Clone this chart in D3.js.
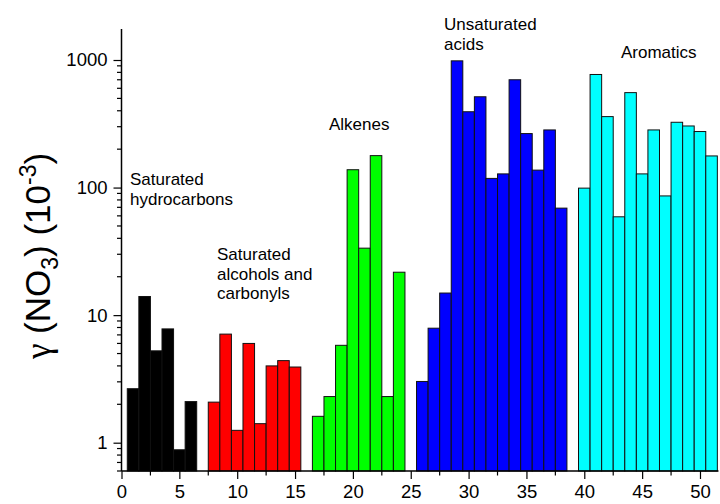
<!DOCTYPE html>
<html><head><meta charset="utf-8">
<script src="https://cdn.jsdelivr.net/npm/d3@7"></script>
<style>
html,body{margin:0;padding:0;background:#fff;}
svg{display:block;font-family:Arial,"Liberation Sans",sans-serif;}
</style></head>
<body><svg id="chart" width="720" height="504"></svg>
<script>
// ---- data ----
const categories = ["Saturated hydrocarbons", "Saturated alcohols and carbonyls", "Alkenes", "Unsaturated acids", "Aromatics"];
const categoryColors = ["#000000", "#ff0000", "#00ff00", "#0000ff", "#00ffff"];
const satHydroX = [1, 2, 3, 4, 5, 6];
const satHydroY = [2.65, 14.0, 5.25, 7.8, 0.88, 2.1];
const satAlcX = [8, 9, 10, 11, 12, 13, 14, 15];
const satAlcY = [2.08, 7.1, 1.25, 6.0, 1.41, 4.0, 4.4, 3.92];
const alkenesX = [17, 18, 19, 20, 21, 22, 23, 24];
const alkenesY = [1.61, 2.3, 5.8, 138, 33.5, 178, 2.3, 21.7];
const unsatAcidsX = [26, 27, 28, 29, 30, 31, 32, 33, 34, 35, 36, 37, 38];
const unsatAcidsY = [3.02, 7.9, 14.9, 985, 393, 515, 118, 128, 700, 265, 137, 283, 69];
const aromaticsX = [40, 41, 42, 43, 44, 45, 46, 47, 48, 49, 50, 51];
const aromaticsY = [99, 770, 360, 59, 555, 128, 283, 86, 325, 304, 275, 177];
const xTickLabels = [0, 5, 10, 15, 20, 25, 30, 35, 40, 45, 50];
const yTickLabels = [1, 10, 100, 1000];
const labelLines = [["Saturated", "hydrocarbons"], ["Saturated", "alcohols and", "carbonyls"], ["Alkenes"], ["Unsaturated", "acids"], ["Aromatics"]];

const groups = [
  {x: satHydroX, y: satHydroY},
  {x: satAlcX, y: satAlcY},
  {x: alkenesX, y: alkenesY},
  {x: unsatAcidsX, y: unsatAcidsY},
  {x: aromaticsX, y: aromaticsY}
];

// ---- layout ----
const svg = d3.select("#chart");
const x = d3.scaleLinear().domain([0, 51.6]).range([121.5, 718.5]);
const y = d3.scaleLog().domain([0.6, 1750]).range([471, 29]);
const bw = x(1) - x(0);

// bars
groups.forEach((g, gi) => {
  svg.append("g").selectAll("rect").data(g.x.map((xv, i) => ({xv, yv: g.y[i]})))
    .join("rect")
    .attr("x", d => x(d.xv - 0.5))
    .attr("width", bw)
    .attr("y", d => y(d.yv))
    .attr("height", d => y(0.6) - y(d.yv))
    .attr("fill", categoryColors[gi])
    .attr("stroke", "#111")
    .attr("stroke-width", 1);
});

// x axis
const xMinor = d3.range(0, 51.6, 2.5).filter(v => v % 5 !== 0);
const xAxis = svg.append("g").attr("transform", `translate(0,${y(0.6)})`);
xAxis.call(d3.axisBottom(x).tickValues(xTickLabels).tickSize(8).tickPadding(6).tickFormat(d3.format("d")));
xAxis.selectAll(".tick line").attr("stroke", "#000").attr("stroke-width", 1.2);
xAxis.select(".domain").attr("stroke", "#000").attr("stroke-width", 1.5).attr("d", `M${x(0)},0H${x(51.6)}`);
xAxis.selectAll(".tick text").attr("font-size", 18.5).attr("font-family", "Arial, Liberation Sans").attr("fill", "#000");
xAxis.selectAll(".minor").data(xMinor).join("line").attr("class", "minor")
  .attr("x1", d => x(d)).attr("x2", d => x(d)).attr("y1", 0).attr("y2", 4.5)
  .attr("stroke", "#000").attr("stroke-width", 1.2);

// y axis
const yMinor = [];
[0.1, 1, 10, 100].forEach(dec => { for (let k = 2; k <= 9; k++) { const v = dec * k; if (v >= 0.6 && v <= 1750) yMinor.push(v); } });
const yAxis = svg.append("g").attr("transform", `translate(${x(0)},0)`);
yAxis.call(d3.axisLeft(y).tickValues(yTickLabels).tickSize(8).tickPadding(6).tickFormat(d3.format("d")));
yAxis.selectAll(".tick line").attr("stroke", "#000").attr("stroke-width", 1.2);
yAxis.select(".domain").attr("stroke", "#000").attr("stroke-width", 1.5).attr("d", `M0,${y(0.6)}V${y(1750)}`);
yAxis.selectAll(".tick text").attr("font-size", 18.5).attr("font-family", "Arial, Liberation Sans").attr("fill", "#000");
yAxis.selectAll(".minor").data(yMinor).join("line").attr("class", "minor")
  .attr("x1", 0).attr("x2", -4.5).attr("y1", d => y(d)).attr("y2", d => y(d))
  .attr("stroke", "#000").attr("stroke-width", 1.2);

// y title
const yt = svg.append("text").attr("transform", "translate(50,256) rotate(-90)")
  .attr("text-anchor", "middle").attr("font-size", 35).attr("fill", "#000");
yt.append("tspan").attr("font-family", "'Liberation Serif', 'Times New Roman', serif").text("γ");
yt.append("tspan").text(" (NO");
yt.append("tspan").attr("font-size", 23).attr("dy", 8).text("3");
yt.append("tspan").attr("dy", -8).text(") (10");
yt.append("tspan").attr("font-size", 23).attr("dy", -14).text("-3");
yt.append("tspan").attr("dy", 14).text(")");

// category labels
const labelPos = [[130, 185], [217, 260], [329, 130], [444, 30], [621, 58]];
labelLines.forEach((lines, i) => {
  const t = svg.append("text").attr("font-size", 17).attr("fill", "#000")
    .attr("x", labelPos[i][0]).attr("y", labelPos[i][1]);
  lines.forEach((ln, j) => t.append("tspan").attr("x", labelPos[i][0]).attr("dy", j === 0 ? 0 : 19.5).text(ln));
});
</script></body></html>
